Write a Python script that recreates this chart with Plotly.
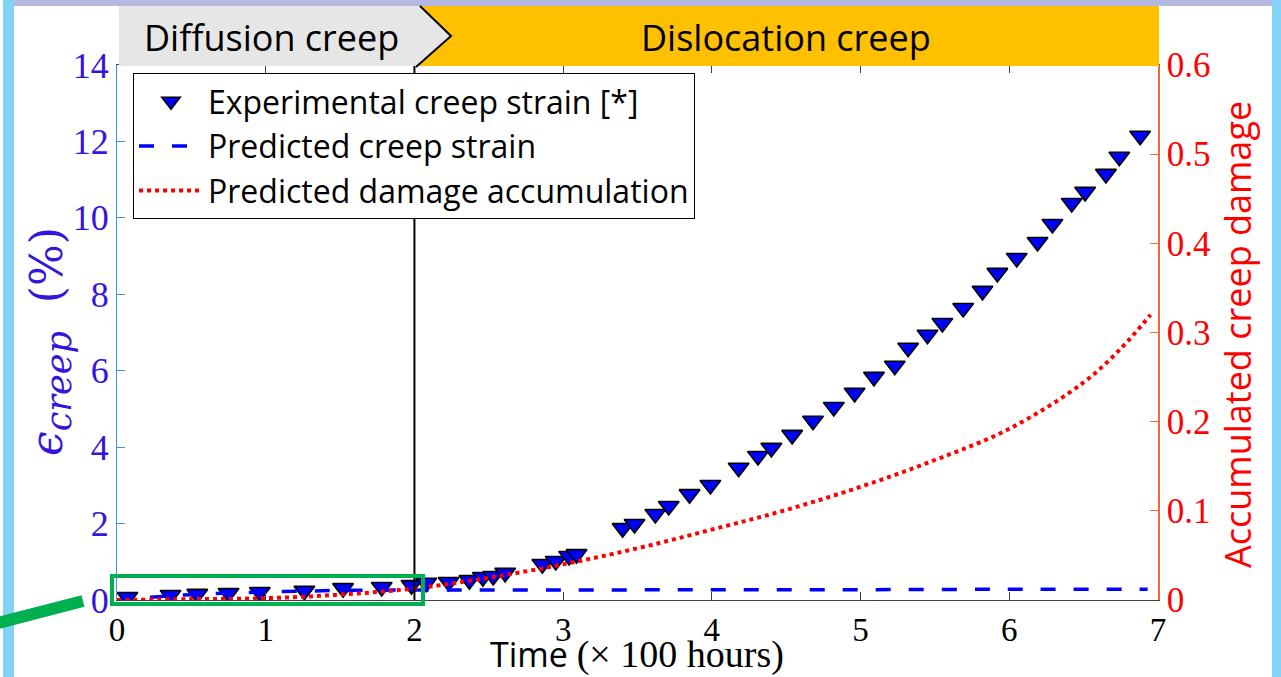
import plotly.graph_objects as go

# ---- data -------------------------------------------------------------
# experimental creep strain (%) vs time (x100 h)
t_exp = [0.07, 0.36, 0.54, 0.75, 0.96, 1.26, 1.52, 1.78, 1.98, 2.08,
         2.23, 2.37, 2.46, 2.53, 2.61, 2.86, 2.95, 3.04, 3.09, 3.40,
         3.48, 3.62, 3.71, 3.85, 3.99, 4.18, 4.31, 4.40, 4.54, 4.68,
         4.82, 4.96, 5.09, 5.23, 5.32, 5.45, 5.55, 5.69, 5.82, 5.92,
         6.05, 6.19, 6.29, 6.42, 6.51, 6.65, 6.74, 6.88]
strain_exp = [0.08, 0.13, 0.16, 0.18, 0.21, 0.24, 0.31, 0.34, 0.39, 0.45,
              0.47, 0.52, 0.60, 0.63, 0.71, 0.94, 1.02, 1.15, 1.20, 1.88,
              1.99, 2.25, 2.46, 2.77, 3.01, 3.46, 3.77, 3.98, 4.32, 4.69,
              5.05, 5.42, 5.84, 6.13, 6.60, 6.94, 7.25, 7.64, 8.09, 8.56,
              8.95, 9.37, 9.84, 10.39, 10.68, 11.15, 11.60, 12.15]

# predicted creep strain (%)
t_pred = [0, 0.25, 0.5, 0.75, 1.0, 1.25, 1.5, 2.0, 3.0, 4.0, 5.0, 6.0, 6.93]
strain_pred = [0, 0.08, 0.14, 0.18, 0.21, 0.23, 0.25, 0.26, 0.26, 0.27, 0.27, 0.28, 0.28]

# predicted accumulated creep damage
t_dmg = [0, 0.5, 1.0, 1.5, 2.0, 2.5, 3.0, 3.5, 4.0, 4.5, 5.0, 5.5, 6.0, 6.5, 6.75, 6.95]
damage = [0, 0.001, 0.002, 0.006, 0.013, 0.025, 0.040, 0.058, 0.079, 0.101,
          0.127, 0.157, 0.192, 0.244, 0.282, 0.32]

x_ticks = [0, 1, 2, 3, 4, 5, 6, 7]
y_ticks = [0, 2, 4, 6, 8, 10, 12, 14]
y2_ticks = [0, 0.1, 0.2, 0.3, 0.4, 0.5, 0.6]

# ---- geometry helpers (pixel -> paper) ----------------------------------
W, H = 1281, 677
PL, PR, PT, PB = 117, 1158, 65, 600


def px(x):
    return (x - PL) / (PR - PL)


def py(y):
    return (PB - y) / (PB - PT)


BLUE_TXT = "#3514DC"
SANS = "'Open Sans', Lato, sans-serif"
SERIF = "'Liberation Serif', 'DejaVu Serif', serif"

fig = go.Figure()

fig.add_trace(go.Scatter(
    x=t_exp, y=strain_exp, mode="markers",
    name="Experimental creep strain [*]", legendgroup="a",
    marker=dict(symbol="triangle-down", size=18, color="#0000FF",
                line=dict(color="black", width=1.6)),
))
fig.add_trace(go.Scatter(
    x=t_pred, y=strain_pred, mode="lines",
    name="Predicted creep strain", legendgroup="b",
    line=dict(color="#0000FF", width=3.5, dash="15px,18px", shape="spline"),
))
fig.add_trace(go.Scatter(
    x=t_dmg, y=damage, mode="lines", yaxis="y2",
    name="Predicted damage accumulation", legendgroup="c",
    line=dict(color="#FF0000", width=4, dash="4px,4px", shape="spline"),
))

fig.update_layout(
    width=W, height=H,
    margin=dict(l=PL, r=W - PR, t=PT, b=H - PB),
    paper_bgcolor="white", plot_bgcolor="white",
    showlegend=True,
    legend=dict(
        x=px(133), y=py(73), xanchor="left", yanchor="top",
        bgcolor="white", bordercolor="black", borderwidth=1,
        font=dict(family=SANS, size=32, color="black"),
        tracegroupgap=0, itemwidth=64,
    ),
    xaxis=dict(
        range=[0, 7], tickvals=x_ticks, ticktext=[str(v) for v in x_ticks],
        showgrid=False, zeroline=False,
        showline=True, linecolor="#404040", linewidth=1.2, mirror="ticks",
        ticks="inside", ticklen=8, tickcolor="#404040",
        tickfont=dict(family=SERIF, size=33, color="black"),
    ),
    yaxis=dict(
        range=[0, 14], tickvals=y_ticks, ticktext=[str(v) for v in y_ticks],
        showgrid=False, zeroline=False,
        showline=True, linecolor="#3F97DA", linewidth=1.2,
        ticks="inside", ticklen=8, tickcolor="#3F97DA",
        tickfont=dict(family=SERIF, size=36, color=BLUE_TXT),
    ),
    yaxis2=dict(
        range=[0, 0.6], tickvals=y2_ticks,
        ticktext=["0", "0.1", "0.2", "0.3", "0.4", "0.5", "0.6"],
        overlaying="y", side="right",
        showgrid=False, zeroline=False,
        showline=True, linecolor="#EE6A3A", linewidth=1.5,
        ticks="inside", ticklen=8, tickcolor="#EE6A3A",
        tickfont=dict(family=SERIF, size=35, color="#FF0000"),
    ),
)

shapes = []
# page frame decorations
shapes.append(dict(type="rect", xref="paper", yref="paper", layer="above",
                   x0=px(14), x1=px(1272), y0=py(0), y1=py(6),
                   fillcolor="#B5B9E2", line=dict(width=0)))
shapes.append(dict(type="rect", xref="paper", yref="paper", layer="above",
                   x0=px(3), x1=px(14), y0=py(0), y1=py(677),
                   fillcolor="#80D4F8", line=dict(width=0)))
shapes.append(dict(type="rect", xref="paper", yref="paper", layer="above",
                   x0=px(1272), x1=px(1281), y0=py(0), y1=py(677),
                   fillcolor="#80D4F8", line=dict(width=0)))


def path(pts):
    return "M " + " L ".join(f"{px(a):.5f},{py(b):.5f}" for a, b in pts) + " Z"


def open_path(pts):
    return "M " + " L ".join(f"{px(a):.5f},{py(b):.5f}" for a, b in pts)


# regime banner
shapes.append(dict(type="path", xref="paper", yref="paper", layer="above",
                   path=path([(420, 6), (1159, 6), (1159, 66), (416, 66), (451, 36)]),
                   fillcolor="#FFC000", line=dict(width=0)))
shapes.append(dict(type="path", xref="paper", yref="paper", layer="above",
                   path=path([(119, 6), (420, 6), (451, 36), (416, 66), (119, 66)]),
                   fillcolor="#E6E6E6", line=dict(width=0)))
shapes.append(dict(type="path", xref="paper", yref="paper", layer="above",
                   path=open_path([(420, 6), (451, 36), (416, 67)]),
                   line=dict(color="black", width=2)))
# regime boundary at t = 2
shapes.append(dict(type="line", xref="x", yref="paper", layer="above",
                   x0=2, x1=2, y0=0, y1=py(66),
                   line=dict(color="black", width=2)))
# highlight box around the diffusion-creep data
shapes.append(dict(type="rect", xref="paper", yref="paper", layer="above",
                   x0=px(112), x1=px(423), y0=py(604), y1=py(576),
                   line=dict(color="#00B050", width=4)))
shapes.append(dict(type="path", xref="paper", yref="paper", layer="above",
                   path=open_path([(-2, 623), (83, 601)]),
                   line=dict(color="#00B050", width=12)))
fig.update_layout(shapes=shapes)

annotations = []
for label, cx in (("Diffusion creep", 271), ("Dislocation creep", 786)):
    annotations.append(dict(
        text=label, x=px(cx), y=py(37), xref="paper", yref="paper",
        showarrow=False, xanchor="center", yanchor="middle",
        font=dict(family=SANS, size=36, color="black")))

annotations.append(dict(
    text=("Time <span style=\"font-family:'Liberation Serif','DejaVu Serif',serif;"
          "font-size:38px\">(× 100 hours)</span>"),
    x=px(637), y=py(654), xref="paper", yref="paper", showarrow=False,
    xanchor="center", yanchor="middle",
    font=dict(family=SANS, size=34, color="black")))
annotations.append(dict(
    text="<i>ϵ</i><sub><i><span style=\"font-size:35px\">creep</span></i></sub>  (%)",
    x=px(50), y=py(342), xref="paper", yref="paper", showarrow=False,
    xanchor="center", yanchor="middle", textangle=-90,
    font=dict(family="'DejaVu Serif', serif", size=44, color=BLUE_TXT)))
annotations.append(dict(
    text="Accumulated creep damage",
    x=px(1237), y=py(335), xref="paper", yref="paper", showarrow=False,
    xanchor="center", yanchor="middle", textangle=-90,
    font=dict(family=SANS, size=36, color="#FF0000")))
fig.update_layout(annotations=annotations)

fig.write_html("out.html")
